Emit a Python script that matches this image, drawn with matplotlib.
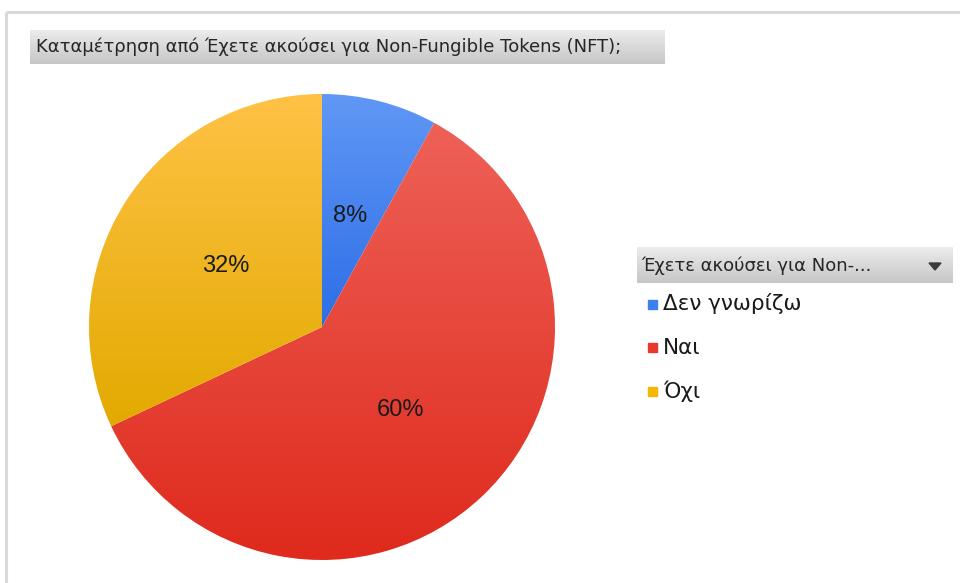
import numpy as np
import matplotlib
matplotlib.use("Agg")
import matplotlib.pyplot as plt
from matplotlib.colors import LinearSegmentedColormap
from matplotlib.patches import Rectangle, Polygon

# Δεδομένα
categories = ["Δεν γνωρίζω", "Ναι", "Όχι"]
percent = [8, 60, 32]
title_text = "Καταμέτρηση από Έχετε ακούσει για Non-Fungible Tokens (NFT);"
legend_title = "Έχετε ακούσει για Non-..."

# χρώματα: (πάνω, κάτω) για κάθε κομμάτι
grad_colors = [("#6198f6", "#2c6ee6"), ("#ee6157", "#df2a1d"), ("#ffc246", "#e2aa00")]
legend_colors = ["#3f80f1", "#e8392d", "#f5b800"]

W, H = 960, 583
fig = plt.figure(figsize=(W / 100, H / 100), dpi=100)
ax = fig.add_axes([0, 0, 1, 1])
ax.set_xlim(0, W)
ax.set_ylim(0, H)
ax.set_aspect("equal")
ax.axis("off")


def Y(y):
    return H - y


def gradient_box(x0, y0, x1, y1, top, bottom, clip=None):
    cmap = LinearSegmentedColormap.from_list("g", [top, bottom])
    grad = np.linspace(0, 1, 256).reshape(-1, 1)
    im = ax.imshow(grad, cmap=cmap, extent=(x0, x1, y0, y1), origin="upper",
                   aspect="auto", interpolation="bicubic", zorder=1)
    if clip is not None:
        im.set_clip_path(clip)
    return im


# κάδρο γραφήματος
ax.plot([6, W], [Y(12), Y(12)], color="#d9d9d9", lw=2.2, solid_capstyle="butt", zorder=0)
ax.plot([6, 6], [Y(12), 0], color="#d9d9d9", lw=2.2, solid_capstyle="butt", zorder=0)

# πίτα
cx, cy, r = 322, Y(327), 233
wedges, _, autotexts = ax.pie(percent, startangle=90, counterclock=False,
                              center=(cx, cy), radius=r, frame=True,
                              autopct=lambda p: f"{p:.0f}%", pctdistance=0.49,
                              wedgeprops=dict(linewidth=0),
                              textprops=dict(fontsize=17, color="#1a1a1a",
                                             family="Liberation Sans"))
ax.set_xlim(0, W)
ax.set_ylim(0, H)
ax.axis("off")
for w, (top, bottom) in zip(wedges, grad_colors):
    w.set_facecolor("none")
    ext = w.get_path().get_extents()
    gradient_box(ext.x0, ext.y0, ext.x1, ext.y1, top, bottom, clip=w)
for t in autotexts:
    t.set_zorder(5)

# τίτλος σε γκρι πλαίσιο
gradient_box(30, Y(64), 665, Y(30), "#ececec", "#c6c6c6")
ax.text(36, Y(47), title_text, fontsize=13, color="#262626", va="center", ha="left",
        family="DejaVu Sans", zorder=5)

# υπόμνημα
gradient_box(637, Y(283), 953, Y(247), "#ececec", "#c6c6c6")
ax.text(641, Y(266), legend_title, fontsize=13, color="#262626", va="center", ha="left",
        family="DejaVu Sans", zorder=5)
ax.add_patch(Polygon([(929, Y(263)), (941, Y(263)), (935, Y(270))], closed=True,
                     color="#3a3a3a", zorder=5))
for i, (name, col) in enumerate(zip(categories, legend_colors)):
    yy = Y(304 + i * 43.5)
    ax.add_patch(Rectangle((648, yy - 4.5), 9, 9, color=col, zorder=5))
    ax.text(663, yy, name, fontsize=15.5, color="#1a1a1a", va="center", ha="left",
            family="DejaVu Sans", zorder=5)

fig.savefig("out.png", dpi=100, facecolor="white")
